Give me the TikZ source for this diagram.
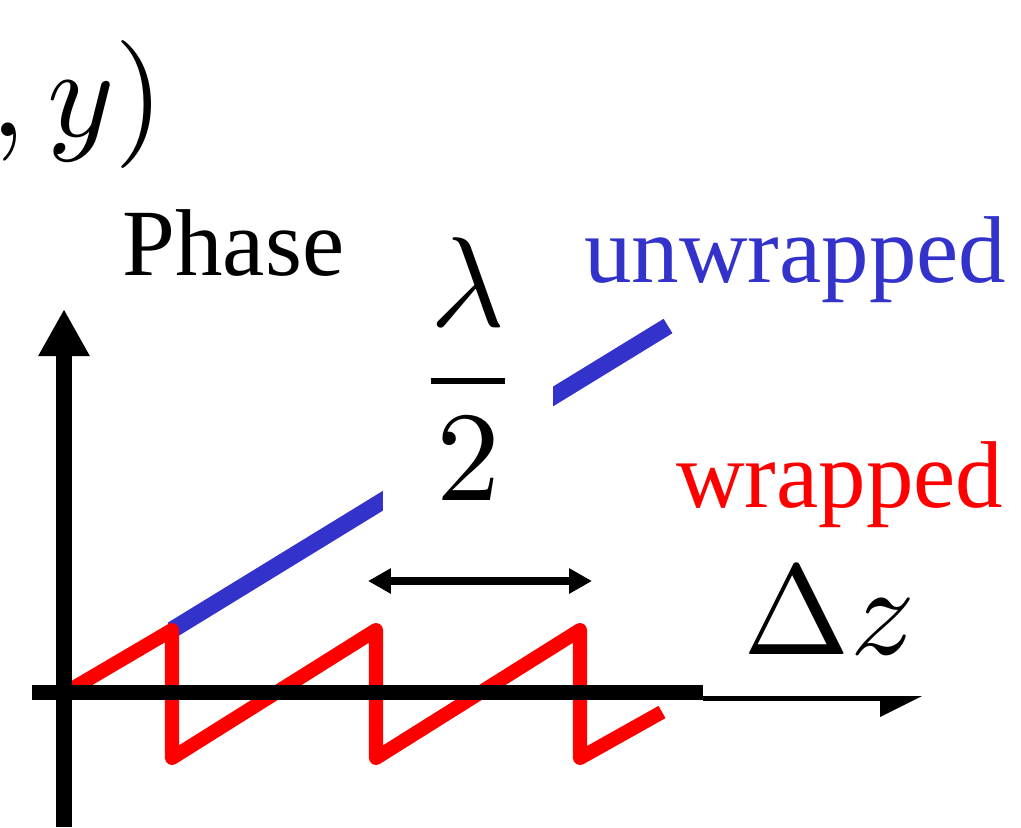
\documentclass[tikz,border=0pt]{standalone}
\usepackage{fontspec}
\newfontfamily\labelfont{Liberation Serif}
\usetikzlibrary{arrows.meta}
\definecolor{unwrapBlue}{RGB}{51,51,204}
\definecolor{wrapRed}{RGB}{255,0,0}

\begin{document}
\begin{tikzpicture}[x=0.01cm, y=-0.01cm,
  word/.style={inner sep=0pt, font=\labelfont\fontsize{27}{32}\selectfont},
  sym/.style={inner sep=0pt, font=\fontsize{10}{12}\selectfont, scale=3.64, transform shape},
  axis/.style={line width=4.5pt, -{Triangle[length=13.4pt, width=13.7pt]}},
  wrap/.style={draw=wrapRed, line width=4pt, line join=round},
  unwrap/.style={draw=unwrapBlue, line width=4.8pt}]

  \useasboundingbox (0,0) rectangle (1021,827);

  % unwrapped phase, partly hidden by the fraction
  \coordinate (ustart) at (172,630);
  \coordinate (uend)   at (668,326);
  \draw[unwrap] (ustart) -- (uend);
  \fill[white] (383,300) rectangle (553,525);

  % wrapped phase
  \draw[wrap] (70,690) -- (172,630) -- (172,758) -- (376,630) -- (376,758)
    -- (580,630) -- (580,758) -- (662,712);

  % axes
  \coordinate (origin) at (64,692.5);
  \draw[axis] (64,827) -- (64,309);
  \draw[line width=4.27pt] (32,692.5) -- (703,692.5);
  \draw[line width=1.4pt] (703,698.3) -- (882,698.3);
  \fill (880,696) -- (922,696) -- (880,717) -- cycle;

  % period
  \coordinate (pleft)  at (368,581);
  \coordinate (pright) at (592,581);
  \draw[line width=2.3pt, {Triangle[length=6.5pt, width=6.8pt]}-{Triangle[length=6.5pt, width=6.8pt]}]
    (pleft) -- (pright);

  \node[sym, anchor=base east] (xy) at (167,136) {$,y)$};
  \node[sym, anchor=base] (halfwave) at (468,413) {$\displaystyle\frac{\lambda}{2}$};
  \node[sym, anchor=base west] (dz) at (741,654) {$\Delta z$};
  \node[word, anchor=base west] (phase) at (122,275) {Phase};
  \node[word, anchor=base east, text=unwrapBlue] (unwr) at (1007,282) {unwrapped};
  \node[word, anchor=base east, text=wrapRed] (wr) at (1004,507) {wrapped};

\end{tikzpicture}
\end{document}
